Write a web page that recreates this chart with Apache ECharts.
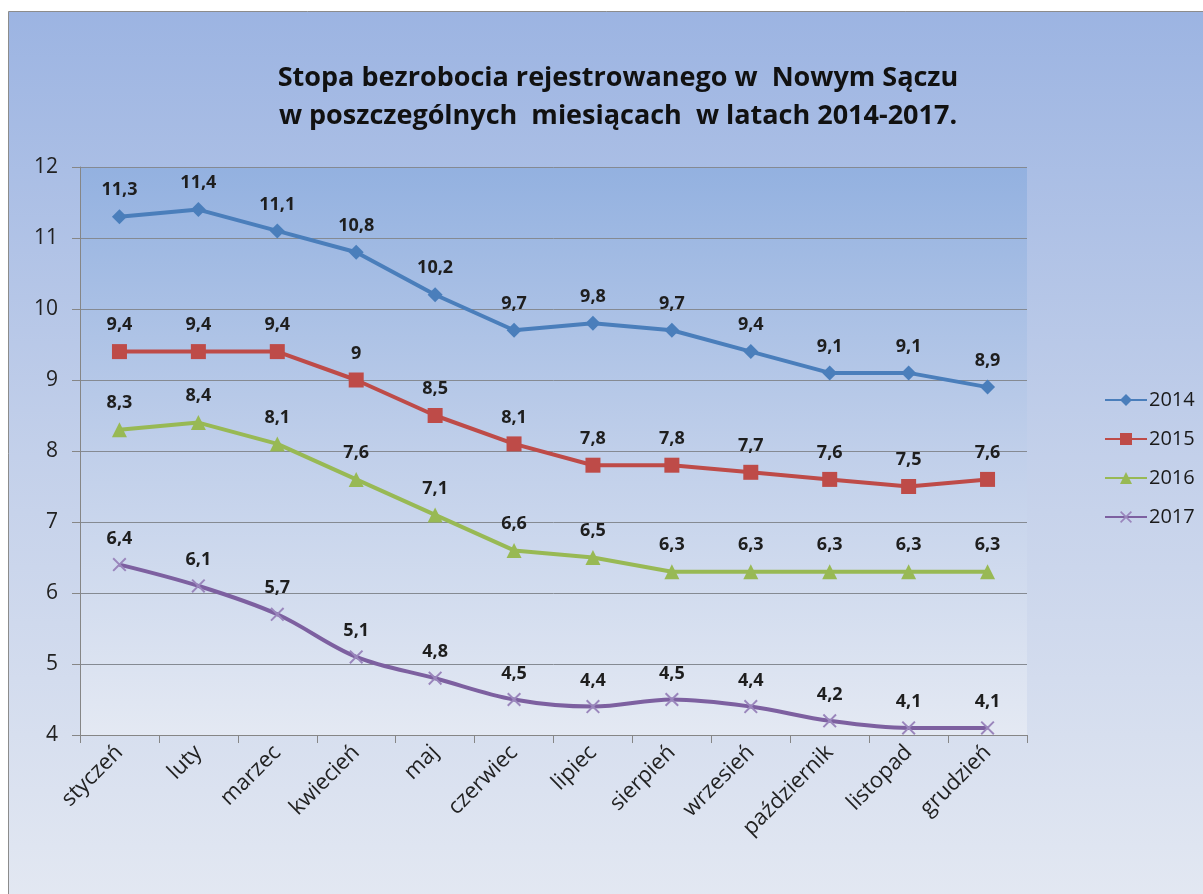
<!DOCTYPE html>
<html>
<head>
<meta charset="utf-8">
<script src="https://cdn.jsdelivr.net/npm/echarts@6/dist/echarts.min.js"></script>
<style>
  html, body { margin: 0; padding: 0; background: #fff; }
  #chart { width: 1203px; height: 894px; }
</style>
</head>
<body>
<div id="chart"></div>
<script>
const months = ['styczeń', 'luty', 'marzec', 'kwiecień', 'maj', 'czerwiec', 'lipiec', 'sierpień', 'wrzesień', 'październik', 'listopad', 'grudzień']
const years = ['2014', '2015', '2016', '2017']
const rate2014 = [11.3, 11.4, 11.1, 10.8, 10.2, 9.7, 9.8, 9.7, 9.4, 9.1, 9.1, 8.9]
const rate2015 = [9.4, 9.4, 9.4, 9, 8.5, 8.1, 7.8, 7.8, 7.7, 7.6, 7.5, 7.6]
const rate2016 = [8.3, 8.4, 8.1, 7.6, 7.1, 6.6, 6.5, 6.3, 6.3, 6.3, 6.3, 6.3]
const rate2017 = [6.4, 6.1, 5.7, 5.1, 4.8, 4.5, 4.4, 4.5, 4.4, 4.2, 4.1, 4.1]

const font = 'Open Sans'
const crossPath = 'path://M0,1L1,0L5,4L9,0L10,1L6,5L10,9L9,10L5,6L1,10L0,9L4,5Z'

function makeSeries(name, data, color, symbol, size, markColor, smooth) {
  return {
    name: name,
    type: 'line',
    data: data,
    smooth: smooth,
    symbol: symbol,
    symbolSize: size,
    lineStyle: { color: color, width: 4 },
    itemStyle: { color: markColor || color },
    label: {
      show: true,
      position: 'top',
      distance: 10,
      fontFamily: font,
      fontWeight: 'bold',
      fontSize: 18,
      color: '#1e1e1e',
      formatter: function (p) {
        return String(p.value).replace('.', ',')
      }
    }
  }
}

const chart = echarts.init(document.getElementById('chart'))
chart.setOption({
  backgroundColor: '#fff',
  animation: false,
  graphic: [{
    type: 'rect',
    z: -10,
    silent: true,
    shape: { x: 8.5, y: 11.5, width: 1200, height: 890 },
    style: {
      fill: new echarts.graphic.LinearGradient(0, 0, 0, 1, [
        { offset: 0, color: '#9cb4e2' },
        { offset: 0.5, color: '#c3d0ea' },
        { offset: 1, color: '#e3e8f2' }
      ]),
      stroke: '#8c8c8c',
      lineWidth: 1
    }
  }],
  title: {
    text: 'Stopa bezrobocia rejestrowanego w  Nowym Sączu\nw poszczególnych  miesiącach  w latach 2014-2017.',
    left: 613,
    textAlign: 'center',
    top: 54,
    textStyle: {
      fontFamily: font,
      fontWeight: 'bold',
      fontSize: 27,
      lineHeight: 38,
      color: '#111'
    }
  },
  legend: {
    data: years,
    orient: 'vertical',
    left: 1099,
    top: 385,
    itemGap: 19,
    itemWidth: 42,
    itemHeight: 15,
    textStyle: { fontFamily: font, fontSize: 20, color: '#1a1a1a', padding: [0, 0, 0, -3] }
  },
  grid: {
    left: 80,
    right: 176,
    top: 167,
    bottom: 159,
    show: true,
    borderWidth: 0,
    backgroundColor: new echarts.graphic.LinearGradient(0, 0, 0, 1, [
      { offset: 0, color: '#93b1e0' },
      { offset: 0.5, color: '#c0cfea' },
      { offset: 1, color: '#e4e9f3' }
    ])
  },
  xAxis: {
    type: 'category',
    data: months,
    boundaryGap: true,
    axisLine: { lineStyle: { color: '#868686', width: 1 } },
    axisTick: { show: true, length: 8, lineStyle: { color: '#868686' } },
    axisLabel: {
      rotate: 45,
      interval: 0,
      margin: 14,
      fontFamily: font,
      fontSize: 22,
      color: '#222'
    }
  },
  yAxis: {
    type: 'value',
    min: 4,
    max: 12,
    interval: 1,
    axisLine: { show: true, lineStyle: { color: '#868686', width: 1 } },
    axisTick: { show: true, length: 8, lineStyle: { color: '#868686' } },
    axisLabel: { margin: 22, fontFamily: font, fontSize: 21, color: '#222' },
    splitLine: { lineStyle: { color: '#858a92', width: 1 } }
  },
  series: [
    makeSeries('2014', rate2014, '#4a7ebb', 'diamond', 15, null, false),
    makeSeries('2015', rate2015, '#be4b48', 'rect', 15, null, false),
    makeSeries('2016', rate2016, '#98b954', 'triangle', 15, null, false),
    makeSeries('2017', rate2017, '#7d60a0', crossPath, 14, '#9a86bc', 0.35)
  ]
})
</script>
</body>
</html>
